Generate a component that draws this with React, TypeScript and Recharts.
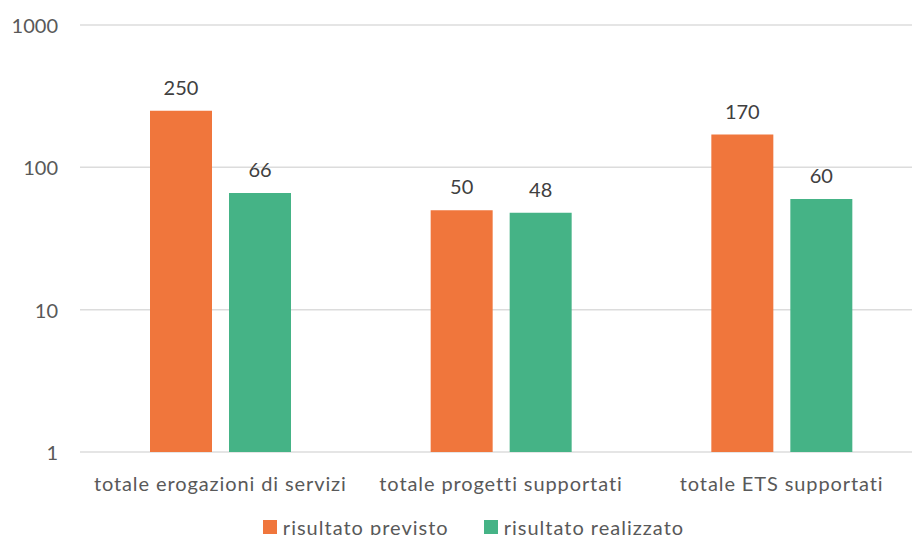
import React from "react";
import { BarChart, Bar, XAxis, YAxis, CartesianGrid, Legend, LabelList } from "recharts";

const categories = ["totale erogazioni di servizi", "totale progetti supportati", "totale ETS supportati"];
const previsto = [250, 50, 170];
const realizzato = [66, 48, 60];
const yTicks = [1, 10, 100, 1000];
const seriesNames = ["risultato previsto", "risultato realizzato"];
const colors = ["#F0763C", "#45B386"];

const data = categories.map((c, i) => ({ name: c, previsto: previsto[i], realizzato: realizzato[i] }));

const FONT = "Lato, 'Open Sans', sans-serif";

const YTick = (props: any) => {
  const { x, y, payload } = props;
  return (
    <text x={x - 14} y={y} textAnchor="end" dominantBaseline="central" fill="#595959" fontSize={20} fontFamily={FONT}>
      {payload.value}
    </text>
  );
};

const XTick = (props: any) => {
  const { x, y, payload } = props;
  return (
    <text x={x} y={y + 23} textAnchor="middle" dominantBaseline="central" fill="#595959" fontSize={20} letterSpacing={0.9} fontFamily={FONT}>
      {payload.value}
    </text>
  );
};

const LegendContent = () => (
  <div style={{ display: "flex", justifyContent: "center", alignItems: "center", height: 30, marginLeft: 25, fontFamily: FONT, fontSize: 20, letterSpacing: 1, color: "#595959" }}>
    {seriesNames.map((n, i) => (
      <div key={n} style={{ display: "flex", alignItems: "center", marginRight: i === 0 ? 35 : 0 }}>
        <div style={{ width: 14, height: 14, background: colors[i], marginRight: 6 }} />
        <span>{n}</span>
      </div>
    ))}
  </div>
);

export default function App() {
  return (
    <div style={{ position: "absolute", left: 0, top: 0, width: 912, height: 535, overflow: "hidden", background: "#fff" }}>
      <BarChart width={922} height={542} data={data} margin={{ top: 25, right: 0, left: 0, bottom: 0 }} barGap={17} barSize={62}>
        <CartesianGrid horizontal vertical={false} stroke="#DCDCDC" strokeWidth={1.5} />
        <XAxis dataKey="name" axisLine={false} tickLine={false} height={60} tick={<XTick />} interval={0} />
        <YAxis scale="log" domain={[1, 1000]} ticks={yTicks} allowDataOverflow axisLine={false} tickLine={false} width={80} tick={<YTick />} />
        <Legend verticalAlign="bottom" height={30} content={<LegendContent />} />
        <Bar dataKey="previsto" name={seriesNames[0]} fill={colors[0]} isAnimationActive={false}>
          <LabelList dataKey="previsto" position="top" offset={16} fill="#404040" fontSize={20} fontFamily={FONT} />
        </Bar>
        <Bar dataKey="realizzato" name={seriesNames[1]} fill={colors[1]} isAnimationActive={false}>
          <LabelList dataKey="realizzato" position="top" offset={16} fill="#404040" fontSize={20} fontFamily={FONT} />
        </Bar>
      </BarChart>
    </div>
  );
}
